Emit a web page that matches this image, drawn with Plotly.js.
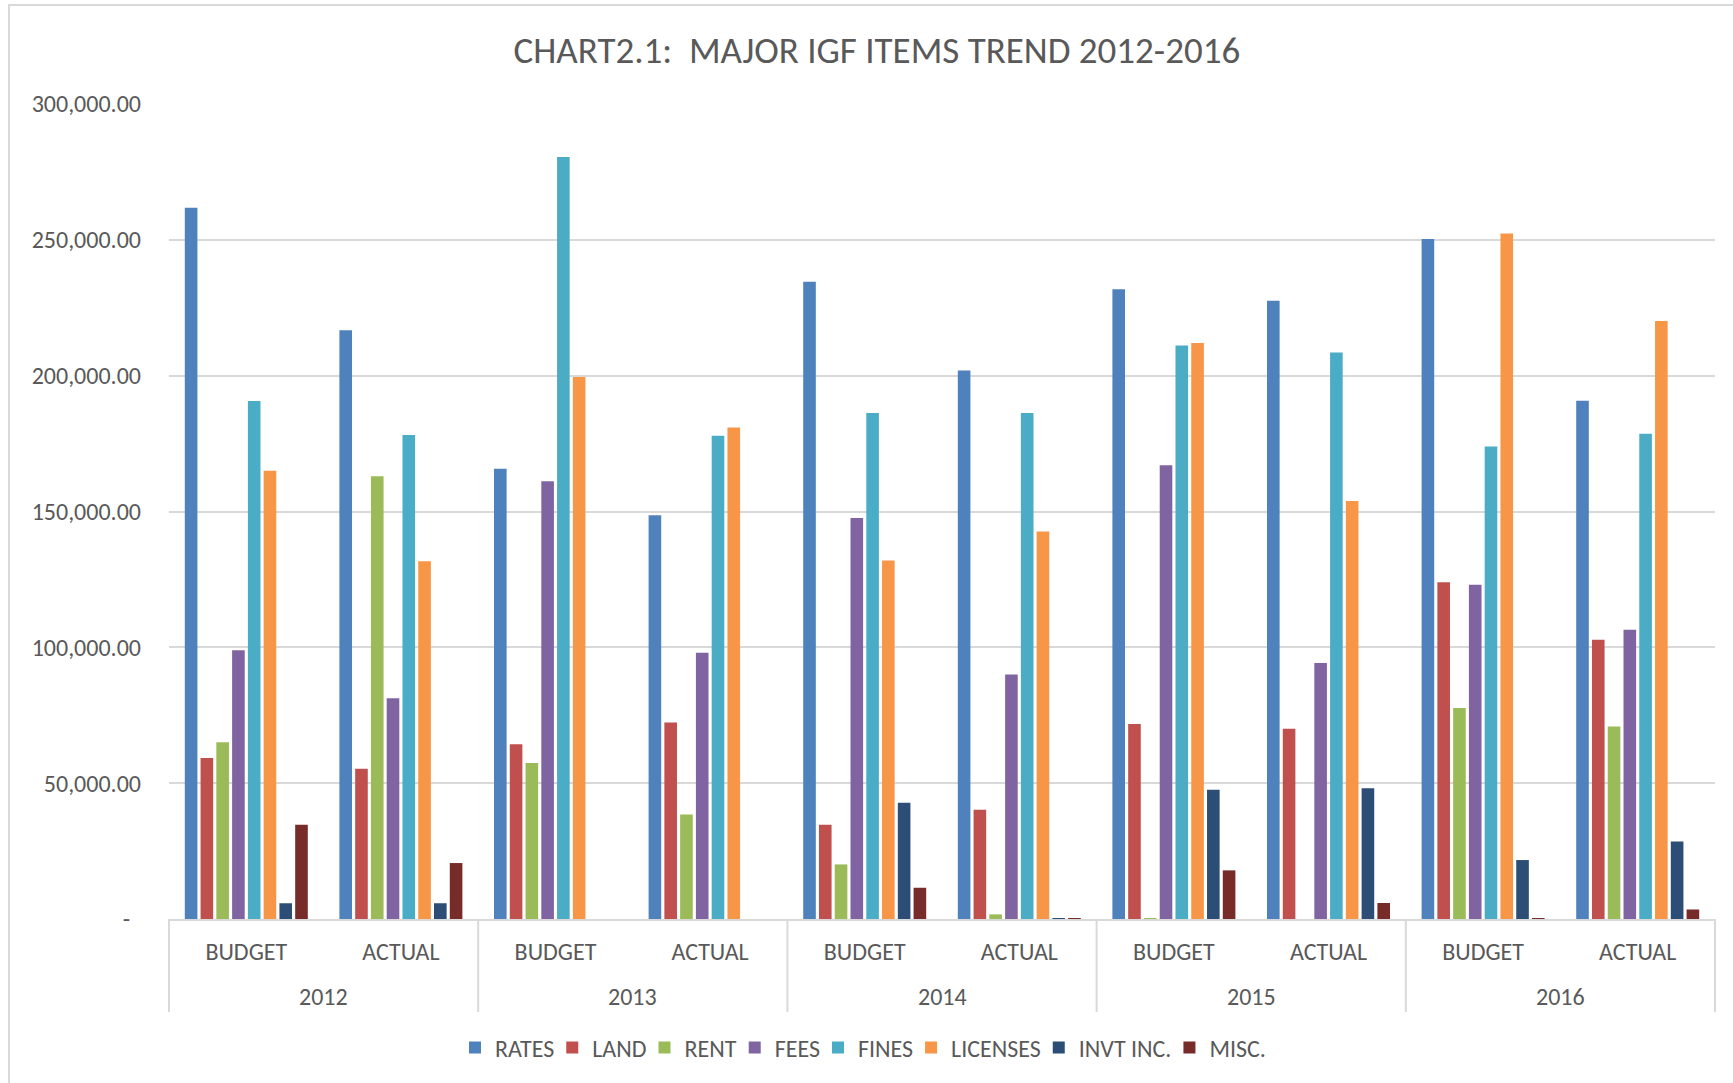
<!DOCTYPE html>
<html>
<head>
<meta charset="utf-8">
<script src="https://cdn.plot.ly/plotly-3.0.1.min.js"></script>
<style>
  html, body { margin: 0; padding: 0; background: #ffffff; }
  #chart { width: 1733px; height: 1083px; }
</style>
</head>
<body>
<div id="chart"></div>
<script>
// Categories (outer: year, inner: budget/actual)
const yearLabels = ["2012", "2013", "2014", "2015", "2016"];
const kinds = ["BUDGET", "ACTUAL", "BUDGET", "ACTUAL", "BUDGET", "ACTUAL", "BUDGET", "ACTUAL", "BUDGET", "ACTUAL"];

// Series values
const rates    = [261800, 216700, 165700, 148600, 234600, 201900, 231800, 227600, 250300, 190800];
const land     = [59300, 55300, 64300, 72300, 34700, 40200, 71800, 70000, 124000, 102800];
const rent     = [65100, 163000, 57400, 38500, 20100, 1700, 300, 0, 77700, 70900];
const fees     = [98900, 81300, 161100, 98000, 147600, 90000, 167000, 94200, 123000, 106500];
const fines    = [190700, 178200, 280500, 177900, 186300, 186300, 211100, 208500, 173900, 178600];
const licenses = [165000, 131700, 199500, 180900, 132000, 142600, 212000, 153900, 252300, 220100];
const invtInc  = [5800, 5800, 0, 0, 42800, 300, 47600, 48100, 21700, 28500];
const misc     = [34700, 20600, 0, 0, 11500, 300, 17900, 5900, 300, 3500];

const seriesNames = ["RATES", "LAND", "RENT", "FEES", "FINES", "LICENSES", "INVT INC.", "MISC."];
const seriesValues = [rates, land, rent, fees, fines, licenses, invtInc, misc];
const seriesColors = ["#4F81BD", "#C0504D", "#9BBB59", "#8064A2", "#4BACC6", "#F79646", "#2C4D75", "#772C2A"];

// Y tick labels
const yTickVals = [0, 50000, 100000, 150000, 200000, 250000, 300000];
const yTickText = ["-\u00A0\u00A0", "50,000.00", "100,000.00", "150,000.00", "200,000.00", "250,000.00", "300,000.00"];

const titleText = "CHART2.1:  MAJOR IGF ITEMS TREND 2012-2016";

const FONT = "Carlito, Calibri, Lato, 'Open Sans', sans-serif";
const TEXT = "#595959";
const GRID = "#D9D9D9";

// category positions 0..n-1 on the x axis
const xPos = kinds.map((_, i) => i);
const perYear = kinds.length / yearLabels.length;

const traces = seriesNames.map((name, i) => ({
  type: "bar",
  name: name,
  x: xPos,
  y: seriesValues[i],
  marker: { color: seriesColors[i], line: { width: 0 } },
  hoverinfo: "y+name"
}));

// year labels under the budget/actual labels
const PLOT_H = 815.5;
const yearAnnotations = yearLabels.map((yr, k) => ({
  text: yr,
  xref: "x", yref: "paper",
  x: k * perYear + (perYear - 1) / 2,
  y: -77.5 / PLOT_H,
  xanchor: "center", yanchor: "middle",
  showarrow: false,
  font: { family: FONT, size: 24, color: TEXT }
}));

// divider lines between years (including outer edges)
const dividerShapes = [];
for (let k = 0; k <= yearLabels.length; k++) {
  dividerShapes.push({
    type: "line",
    xref: "paper", yref: "paper",
    x0: k / yearLabels.length, x1: k / yearLabels.length,
    y0: 0, y1: -93 / PLOT_H,
    line: { color: GRID, width: 2 }
  });
}

const layout = {
  width: 1733,
  height: 1083,
  paper_bgcolor: "#ffffff",
  plot_bgcolor: "#ffffff",
  font: { family: FONT, color: TEXT, size: 24 },
  title: {
    text: titleText,
    font: { family: FONT, size: 37, color: TEXT },
    x: 0.506, xref: "container", xanchor: "center",
    y: 0.954, yref: "container", yanchor: "middle"
  },
  margin: { l: 169, r: 18, t: 104, b: 163.5, pad: 0 },
  barmode: "group",
  bargap: 0.184,
  bargroupgap: 0.2,
  showlegend: true,
  legend: {
    orientation: "h",
    x: 0.5, xref: "container", xanchor: "center",
    y: 0.0323, yref: "container", yanchor: "middle",
    font: { family: FONT, size: 24, color: TEXT },
    traceorder: "normal",
    itemwidth: 30,
    indentation: -7,
    bgcolor: "rgba(0,0,0,0)"
  },
  xaxis: {
    type: "linear",
    range: [-0.5, kinds.length - 0.5],
    tickvals: xPos,
    ticktext: kinds,
    showgrid: false,
    showline: true,
    linecolor: GRID,
    linewidth: 2,
    ticks: "",
    ticklabelstandoff: 10,
    tickfont: { family: FONT, size: 24, color: TEXT },
    zeroline: false,
    fixedrange: true
  },
  yaxis: {
    range: [0, 300000],
    tickvals: yTickVals,
    ticktext: yTickText,
    showgrid: true,
    gridcolor: GRID,
    gridwidth: 2,
    zeroline: false,
    showline: false,
    ticks: "",
    ticklabelstandoff: 27,
    tickfont: { family: FONT, size: 24, color: TEXT },
    fixedrange: true
  },
  annotations: yearAnnotations,
  shapes: [{
    type: "rect",
    xref: "paper", yref: "paper",
    x0: -0.1035, x1: 1.05,
    y0: -0.25, y1: 1.1214,
    line: { color: GRID, width: 2 },
    fillcolor: "rgba(0,0,0,0)",
    layer: "below"
  }].concat(dividerShapes)
};

Plotly.newPlot("chart", traces, layout, { displayModeBar: false });
</script>
</body>
</html>
